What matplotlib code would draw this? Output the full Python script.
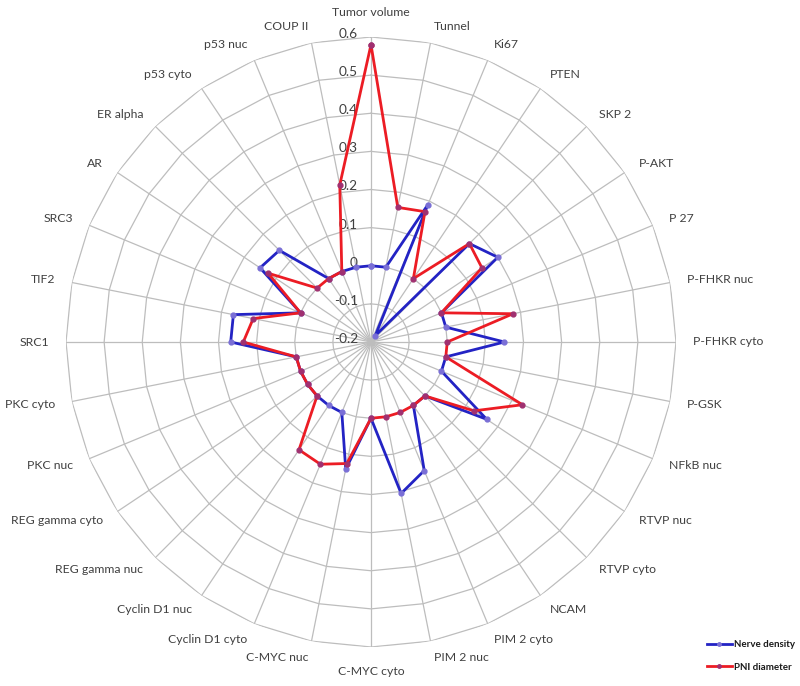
import numpy as np
import matplotlib.pyplot as plt
from matplotlib.lines import Line2D
from matplotlib.transforms import offset_copy

plt.rcParams['font.family'] = ['Lato', 'DejaVu Sans']

# categories clockwise from the top
categories = [
    "Tumor volume", "Tunnel", "Ki67", "PTEN", "SKP 2", "P-AKT", "P 27",
    "P-FHKR nuc", "P-FHKR cyto", "P-GSK", "NFkB nuc", "RTVP nuc", "RTVP cyto",
    "NCAM", "PIM 2 cyto", "PIM 2 nuc", "C-MYC cyto", "C-MYC nuc",
    "Cyclin D1 cyto", "Cyclin D1 nuc", "REG gamma nuc", "REG gamma cyto",
    "PKC nuc", "PKC cyto", "SRC1", "TIF2", "SRC3", "AR", "ER alpha",
    "p53 cyto", "p53 nuc", "COUP II",
]

nerve_density = [
    0.0, 0.0, 0.19, -0.18, 0.165, 0.2, 0.0, 0.0, 0.15, 0.0, 0.0, 0.165, 0.0,
    0.0, 0.165, 0.205, 0.0, 0.14, 0.0, 0.0, 0.0, 0.0, 0.0, 0.0, 0.168, 0.168,
    0.0, 0.15, 0.14, 0.0, 0.0, 0.0,
]

pni_diameter = [
    0.58, 0.16, 0.17, 0.0, 0.165, 0.15, 0.0, 0.18, 0.0, 0.0, 0.23, 0.125, 0.0,
    0.0, 0.0, 0.0, 0.0, 0.125, 0.147, 0.14, 0.0, 0.0, 0.0, 0.0, 0.135, 0.115,
    0.0, 0.125, 0.0, 0.0, 0.0, 0.22,
]

tick_values = [-0.2, -0.1, 0, 0.1, 0.2, 0.3, 0.4, 0.5, 0.6]

n = len(categories)
theta = np.arange(n) * 2 * np.pi / n
theta_closed = np.append(theta, theta[0])

fig = plt.figure(figsize=(8, 6.86), dpi=100)
ax = fig.add_axes([66 / 800, 39 / 686, 610 / 800, 610 / 686], projection='polar')
ax.set_theta_zero_location('N')
ax.set_theta_direction(-1)
ax.set_ylim(-0.2, 0.6)
ax.grid(False)
ax.spines['polar'].set_visible(False)
ax.set_xticks([])
ax.set_yticks([])

grid_col = '#bdbdbd'
# polygon rings
for lev in tick_values[1:]:
    ax.plot(theta_closed, [lev] * (n + 1), color=grid_col, lw=0.9, zorder=1)
# spokes
for t in theta:
    ax.plot([t, t], [-0.2, 0.6], color=grid_col, lw=0.9, zorder=1)

# radial tick labels along the top spoke
trans = offset_copy(ax.transData, fig=fig, x=-13, y=3, units='dots')
for lev in tick_values:
    ax.text(0, lev, f'{lev:g}', transform=trans, ha='right', va='center',
            fontsize=9.8, color='#404040', zorder=2)

# category labels
for t, lab in zip(theta, categories):
    s = np.sin(t)
    if abs(s) < 0.01:
        ax.text(t, 0.664, lab, ha='center', va='center', fontsize=8.8, color='#404040')
    else:
        ax.text(t, 0.645, lab, ha='left' if s > 0 else 'right', va='center',
                fontsize=8.8, color='#404040')

blue = '#2323c4'
red = '#ec1c24'
ax.plot(theta_closed, nerve_density + nerve_density[:1], color=blue, lw=2.0,
        marker='o', ms=3.5, mfc='#7a6fd6', mec='#7a6fd6', zorder=3)
ax.plot(theta_closed, pni_diameter + pni_diameter[:1], color=red, lw=2.0,
        marker='o', ms=3.5, mfc='#a03070', mec='#a03070', zorder=4)

handles = [
    Line2D([], [], color=blue, lw=2, marker='o', ms=2.5, mfc='#7a6fd6', mec='#7a6fd6'),
    Line2D([], [], color=red, lw=2, marker='o', ms=2.5, mfc='#a03070', mec='#a03070'),
]
leg = fig.legend(handles, ['Nerve density', 'PNI diameter'], loc='center left',
                 bbox_to_anchor=(698 / 800, 1 - 656 / 686), frameon=False,
                 fontsize=7, handlelength=2.6, handletextpad=0.2, labelspacing=1.4)
for txt in leg.get_texts():
    txt.set_fontweight('bold')
    txt.set_color('#1a1a1a')

fig.savefig('out.png', dpi=100)
